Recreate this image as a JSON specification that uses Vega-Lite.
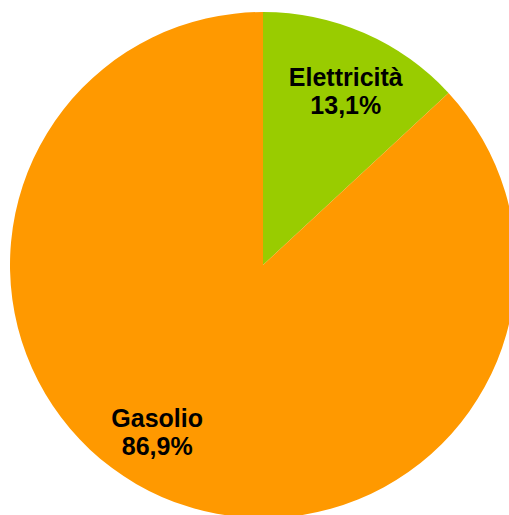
{
  "$schema": "https://vega.github.io/schema/vega-lite/v6.json",
  "width": 526,
  "height": 530,
  "autosize": "none",
  "padding": 0,
  "background": "white",
  "config": {"view": {"stroke": null}},
  "data": {"values": [
    {"fonte": "Elettricità", "quota": 13.1, "label": "Elettricità\n13,1%"},
    {"fonte": "Gasolio", "quota": 86.9, "label": "Gasolio\n86,9%"}
  ]},
  "encoding": {
    "theta": {"field": "quota", "type": "quantitative", "stack": true},
    "order": {"field": "fonte", "type": "nominal"}
  },
  "layer": [
    {
      "mark": {"type": "arc", "radius": 253, "stroke": null},
      "encoding": {
        "color": {"field": "fonte", "type": "nominal", "legend": null,
          "scale": {"domain": ["Elettricità", "Gasolio"], "range": ["#99CC00", "#FF9900"]}}
      }
    },
    {
      "mark": {"type": "text", "radius": 192, "dx": 6, "dy": -11, "lineBreak": "\n", "lineHeight": 28, "font": "Liberation Sans", "fontWeight": "bold", "fontSize": 25, "color": "black", "align": "center", "baseline": "middle"},
      "encoding": {"text": {"condition": {"test": "datum.fonte == 'Elettricità'", "field": "label"}, "value": ""}}
    },
    {
      "mark": {"type": "text", "radius": 197, "dx": -27, "dy": -27, "lineBreak": "\n", "lineHeight": 28, "font": "Liberation Sans", "fontWeight": "bold", "fontSize": 25, "color": "black", "align": "center", "baseline": "middle"},
      "encoding": {"text": {"condition": {"test": "datum.fonte == 'Gasolio'", "field": "label"}, "value": ""}}
    }
  ]
}
